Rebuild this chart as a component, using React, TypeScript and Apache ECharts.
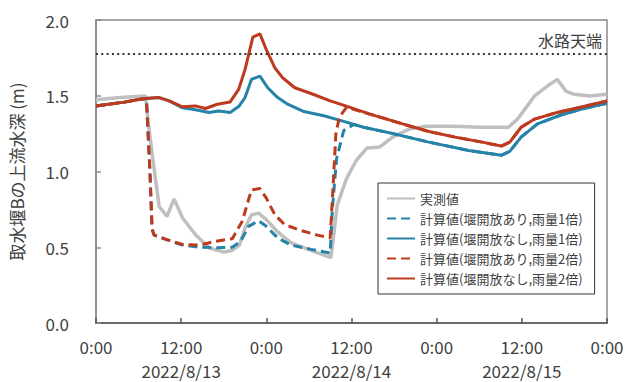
import React, { useEffect, useRef } from 'react';
import * as echarts from 'echarts';

// x axis: hours from 2022/8/13 0:00
const hourTicks = [0, 12, 24, 36, 48, 60, 72];
const timeLabels = ['0:00', '12:00', '0:00', '12:00', '0:00', '12:00', '0:00'];
const dateLabels = ['', '2022/8/13', '', '2022/8/14', '', '2022/8/15', ''];

const yAxisName = '取水堰Bの上流水深 (m)';
const channelTop = 1.78;
const channelTopLabel = '水路天端';

const seriesNames = [
  '実測値',
  '計算値(堰開放あり,雨量1倍)',
  '計算値(堰開放なし,雨量1倍)',
  '計算値(堰開放あり,雨量2倍)',
  '計算値(堰開放なし,雨量2倍)',
];

const measured: [number, number][] = [
  [0, 1.473], [3.4, 1.488], [7, 1.499], [7.3, 1.346], [8, 1.085], [8.9, 0.769],
  [10, 0.704], [11, 0.819], [12.2, 0.693], [14, 0.584], [15.9, 0.497], [18, 0.468],
  [19.2, 0.48], [20.2, 0.514], [21, 0.627], [21.9, 0.714], [22.9, 0.725], [24, 0.682],
  [25.6, 0.601], [27.5, 0.529], [30.3, 0.479], [33.1, 0.431], [33.5, 0.584], [34, 0.78],
  [35.3, 0.954], [36.7, 1.075], [38.2, 1.155], [40, 1.162], [41.8, 1.227], [44.2, 1.281],
  [46.5, 1.298], [50.2, 1.298], [54.4, 1.292], [58.1, 1.292], [59.4, 1.346], [61.8, 1.499],
  [63.6, 1.564], [65, 1.608], [66.2, 1.531], [67.3, 1.51], [69.6, 1.499], [72, 1.51],
];

const normalOpen: [number, number][] = [
  [0, 1.433], [2, 1.445], [4, 1.458], [6, 1.475], [7.1, 1.482], [7.6, 1.0], [7.9, 0.62],
  [8.2, 0.58], [9.9, 0.55], [12.2, 0.515], [14.6, 0.5], [16.9, 0.497], [19.2, 0.5],
  [20.4, 0.54], [21.5, 0.638], [22.9, 0.675], [24, 0.638], [25.6, 0.562], [27.5, 0.514],
  [30.3, 0.486], [33, 0.462], [33.3, 0.75], [33.9, 1.085], [34.9, 1.27], [36.3, 1.31],
  [37.7, 1.292], [41.4, 1.255], [46.9, 1.194], [52.5, 1.139], [57.1, 1.107], [58.3, 1.133],
  [59.9, 1.227], [62.2, 1.314], [65.5, 1.373], [68.7, 1.416], [72, 1.451],
];

const normalNoOpen: [number, number][] = [
  [0, 1.433], [2, 1.445], [4, 1.458], [6, 1.475], [7, 1.482], [8.9, 1.488], [10.3, 1.466],
  [12.2, 1.42], [14, 1.408], [15.9, 1.39], [17.3, 1.4], [18.9, 1.39], [20.1, 1.429],
  [21, 1.488], [21.9, 1.608], [23.1, 1.63], [24.2, 1.553], [25.6, 1.488], [27, 1.444],
  [29.3, 1.396], [32.1, 1.368], [34.9, 1.331], [37.7, 1.292], [41.4, 1.255], [46.9, 1.194],
  [52.5, 1.139], [57.1, 1.107], [58.3, 1.133], [59.9, 1.227], [62.2, 1.314], [65.5, 1.373],
  [68.7, 1.416], [72, 1.451],
];

const heavyOpen: [number, number][] = [
  [0, 1.433], [2, 1.445], [4, 1.458], [6, 1.475], [7.1, 1.482], [7.6, 1.0], [7.9, 0.62],
  [8.2, 0.58], [9.9, 0.552], [12.2, 0.518], [14.6, 0.514], [16.9, 0.54], [19.2, 0.556],
  [20.6, 0.671], [21.9, 0.878], [23.1, 0.888], [24, 0.824], [25.2, 0.714], [26.6, 0.649],
  [28.9, 0.61], [31.2, 0.58], [33, 0.562], [33.4, 0.9], [33.8, 1.25], [34.3, 1.36],
  [35.3, 1.423], [38.6, 1.379], [43.2, 1.314], [46.9, 1.264], [50.6, 1.227], [54.4, 1.194],
  [57.1, 1.168], [58.3, 1.194], [59.9, 1.292], [61.8, 1.346], [65, 1.39], [68.7, 1.429],
  [72, 1.466],
];

const heavyNoOpen: [number, number][] = [
  [0, 1.433], [2, 1.445], [4, 1.458], [6, 1.475], [7, 1.482], [8.9, 1.488], [10.3, 1.466],
  [12.2, 1.427], [14, 1.433], [15.4, 1.416], [17.1, 1.444], [18.9, 1.459], [20.1, 1.542],
  [21, 1.673], [22.1, 1.887], [23.1, 1.908], [24, 1.804], [25.2, 1.684], [26.3, 1.619],
  [28, 1.553], [30.3, 1.515], [33, 1.466], [35.8, 1.423], [38.6, 1.379], [43.2, 1.314],
  [46.9, 1.264], [50.6, 1.227], [54.4, 1.194], [57.1, 1.168], [58.3, 1.194], [59.9, 1.292],
  [61.8, 1.346], [65, 1.39], [68.7, 1.429], [72, 1.466],
];

const FONT = '"Noto Sans CJK JP", "Noto Sans", sans-serif';
const TEXT = '#404040';
const GRAY = '#bfbfbf';
const BLUE = '#2583a8';
const RED = '#bd3a1e';
const DASH = [9, 5];

export default function App() {
  const ref = useRef<HTMLDivElement>(null);
  useEffect(() => {
    if (!ref.current) return;
    const chart = echarts.init(ref.current, null, { renderer: 'svg' });
    const line = (name: string, data: [number, number][], color: string, dashed: boolean, width = 3, extra: any = {}) => ({
      name,
      type: 'line',
      data,
      symbol: 'none',
      showSymbol: false,
      smooth: false,
      lineStyle: { color, width, type: dashed ? DASH : 'solid' },
      itemStyle: { color },
      ...extra,
    });
    chart.setOption({
      animation: false,
      textStyle: { fontFamily: FONT, color: TEXT },
      grid: {
        left: 89, right: 22, top: 20, bottom: 56,
        show: true, borderColor: '#8a8a8a', borderWidth: 1.5, backgroundColor: 'transparent',
      },
      legend: {
        orient: 'vertical',
        left: 378,
        top: 183,
        width: 200,
        padding: [9, 12, 9, 8],
        itemGap: 7,
        itemWidth: 28,
        itemHeight: 14,
        borderColor: '#333',
        borderWidth: 1,
        backgroundColor: '#fff',
        data: seriesNames,
        itemStyle: { opacity: 0, borderWidth: 0 },
        textStyle: { fontFamily: FONT, fontSize: 13, color: TEXT },
      },
      xAxis: {
        type: 'value',
        min: 0,
        max: 72,
        interval: 12,
        axisLine: { show: true, lineStyle: { color: '#555', width: 1.5 } },
        axisTick: { show: true, inside: true, length: 5, lineStyle: { color: '#555', width: 1.5 } },
        splitLine: { show: false },
        axisLabel: {
          fontFamily: FONT,
          fontSize: 17,
          color: TEXT,
          margin: 11,
          lineHeight: 24,
          verticalAlign: 'top',
          formatter: (v: number) => {
            const i = hourTicks.indexOf(Math.round(v));
            if (i < 0) return '';
            return dateLabels[i] ? timeLabels[i] + '\n' + dateLabels[i] : timeLabels[i];
          },
        },
      },
      yAxis: {
        type: 'value',
        min: 0,
        max: 2,
        interval: 0.5,
        name: yAxisName,
        nameLocation: 'middle',
        nameGap: 71,
        nameTextStyle: { fontFamily: FONT, fontSize: 17, color: TEXT },
        axisLine: { show: true, lineStyle: { color: '#8a8a8a', width: 1.5 } },
        axisTick: { show: true, inside: true, length: 5, lineStyle: { color: '#8a8a8a', width: 1.5 } },
        splitLine: { show: false },
        axisLabel: {
          fontFamily: FONT,
          fontSize: 17,
          color: TEXT,
          margin: 27,
          formatter: (v: number) => v.toFixed(1),
        },
      },
      series: [
        line(seriesNames[0], measured, GRAY, false, 3.5, {
          markLine: {
            silent: true,
            symbol: 'none',
            data: [{ yAxis: channelTop }],
            lineStyle: { color: '#333', width: 2, type: [2, 3.3] },
            label: {
              show: true,
              position: 'insideEndTop',
              formatter: channelTopLabel,
              fontFamily: FONT,
              fontSize: 16,
              color: TEXT,
              distance: [5, 5],
            },
          },
        }),
        line(seriesNames[1], normalOpen, BLUE, true),
        line(seriesNames[2], normalNoOpen, BLUE, false),
        line(seriesNames[3], heavyOpen, RED, true),
        line(seriesNames[4], heavyNoOpen, RED, false),
      ],
    });
    return () => chart.dispose();
  }, []);
  return <div ref={ref} style={{ width: 629, height: 382, position: 'absolute', left: 0, top: 0 }} />;
}
